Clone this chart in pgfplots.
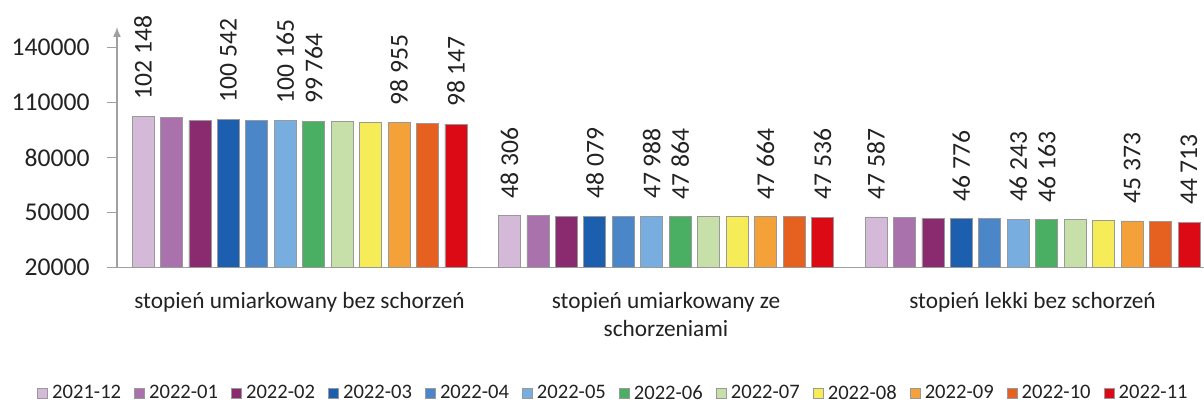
\documentclass[border=0pt]{standalone}
\usepackage{fontspec}
\setmainfont{Carlito}
\usepackage{pgfplots}
\pgfplotsset{compat=1.18}
\usetikzlibrary{arrows.meta}
\definecolor{c1}{HTML}{D4B9D9}
\definecolor{c2}{HTML}{AA72AC}
\definecolor{c3}{HTML}{8A2B70}
\definecolor{c4}{HTML}{1C5FAE}
\definecolor{c5}{HTML}{4A86C8}
\definecolor{c6}{HTML}{78AEDF}
\definecolor{c7}{HTML}{4BAF63}
\definecolor{c8}{HTML}{C7DFA8}
\definecolor{c9}{HTML}{F6EC57}
\definecolor{c10}{HTML}{F4A13A}
\definecolor{c11}{HTML}{E6601F}
\definecolor{c12}{HTML}{DC0A14}
\definecolor{axgray}{HTML}{A0A0A0}
\definecolor{txt}{HTML}{222222}
\pgfplotsset{
  lbl/.style={point meta=explicit symbolic, nodes near coords={\pgfplotspointmeta},
    nodes near coords style={rotate=90, anchor=west, inner xsep=8.5pt, inner ysep=0pt,
      font=\fontsize{12.8}{13}\selectfont, text=txt}},
}
\begin{document}
\begin{tikzpicture}
\useasboundingbox (-58.5pt,-68.75pt) rectangle (543.5pt,133.75pt);
\clip (-58.5pt,-68.75pt) rectangle (543.5pt,133.75pt);
\begin{axis}[
  at={(0pt,0pt)}, anchor=south west,
  scale only axis, width=543.5pt, height=120.25pt,
  xmin=-0.498, xmax=2.4679, ymin=20000, ymax=151182,
  enlargelimits=false,
  axis x line=bottom, axis y line=left,
  x axis line style={-, draw=axgray, line width=0.75pt},
  y axis line style={-{Latex[length=5pt,width=4pt]}, draw=axgray, line width=0.75pt},
  ybar=3.225pt, bar width=11pt,
  ytick={20000,50000,80000,110000,140000},
  yticklabels={20000,50000,80000,110000,140000},
  scaled y ticks=false,
  tick align=outside, major tick length=5pt,
  ytick style={draw=axgray, line width=0.75pt},
  yticklabel style={font=\fontsize{12.8}{13}\selectfont, text=txt, inner sep=0pt, xshift=-8.5pt},
  xtick={0,1,2},
  xticklabels={{stopień umiarkowany bez schorzeń},{stopień umiarkowany ze\\schorzeniami},{stopień lekki bez schorzeń}},
  xtick style={draw=none},
  xticklabel style={align=center, font=\fontsize{11.65}{14}\selectfont, text=txt, inner sep=0pt, yshift=-7pt},
  legend columns=12,
  legend style={at={(-0.0736,-0.525)}, anchor=west, draw=none, fill=none, inner sep=0pt,
    font=\fontsize{10.3}{11}\selectfont, text=txt,
    /tikz/every even column/.append style={column sep=4.6pt}},
  legend image code/.code={\draw[#1, draw=gray!80] (0pt,-2.5pt) rectangle (5pt,2.5pt);},
  every axis plot/.append style={draw=gray!80, line width=0.4pt},
]
\addplot[fill=c1, lbl] coordinates {(0,102148) [102 148] (1,48306) [48 306] (2,47587) [47 587]};
\addplot[fill=c2] coordinates {(0,101600) (1,48200) (2,47120)};
\addplot[fill=c3] coordinates {(0,100180) (1,47900) (2,46890)};
\addplot[fill=c4, lbl] coordinates {(0,100542) [100 542] (1,48079) [48 079] (2,46776) [46 776]};
\addplot[fill=c5] coordinates {(0,100450) (1,48050) (2,46750)};
\addplot[fill=c6, lbl] coordinates {(0,100165) [100 165] (1,47988) [47 988] (2,46243) [46 243]};
\addplot[fill=c7, lbl] coordinates {(0,99764) [99 764] (1,47864) [47 864] (2,46163) [46 163]};
\addplot[fill=c8] coordinates {(0,99700) (1,48000) (2,46100)};
\addplot[fill=c9] coordinates {(0,99300) (1,47700) (2,45850)};
\addplot[fill=c10, lbl] coordinates {(0,98955) [98 955] (1,47664) [47 664] (2,45373) [45 373]};
\addplot[fill=c11] coordinates {(0,98500) (1,47600) (2,45000)};
\addplot[fill=c12, lbl] coordinates {(0,98147) [98 147] (1,47536) [47 536] (2,44713) [44 713]};
\legend{2021-12,2022-01,2022-02,2022-03,2022-04,2022-05,2022-06,2022-07,2022-08,2022-09,2022-10,2022-11}
\end{axis}
\end{tikzpicture}
\end{document}
